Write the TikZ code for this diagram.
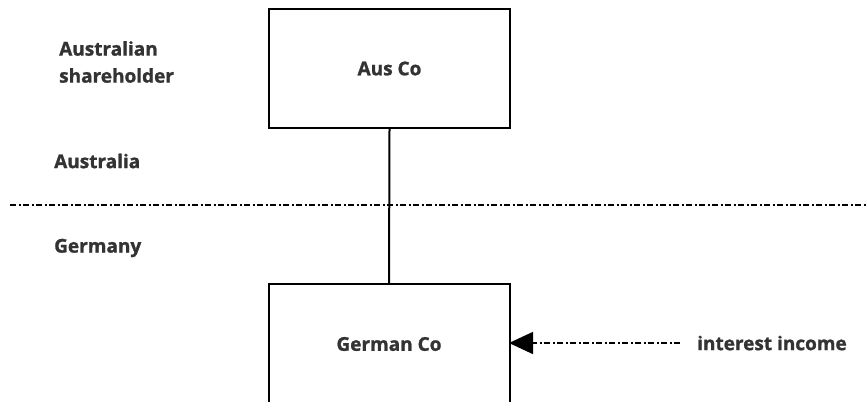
\documentclass[tikz,border=0pt]{standalone}
\usepackage{fontspec}
\setmainfont{Open Sans}[BoldFeatures={FakeBold=1.2}]
\usetikzlibrary{arrows.meta}
\definecolor{ink}{HTML}{333333}
\tikzset{
  entity/.style={draw=black, line width=2pt, minimum width=241pt, minimum height=119pt, inner sep=0pt},
  lbl/.style={text=ink, font=\bfseries\fontsize{19}{27}\selectfont, inner sep=0pt},
  border/.style={line width=1.6pt, dash pattern=on 6pt off 2.5pt on 2pt off 2.5pt},
  flow/.style={line width=1.6pt, dash pattern=on 6pt off 2.5pt on 2pt off 2.5pt,
    -{Triangle[length=24pt,width=22pt]}},
  link/.style={line width=2pt}
}
\begin{document}
\begin{tikzpicture}[x=1pt, y=-1pt]
\useasboundingbox (0,0) rectangle (866,401);
% companies
\node[entity] (aus) at (389.5,68.5) {};
\node[lbl] (auslbl) at (389.5,68.5) {Aus Co};
\node[entity, minimum height=160pt, anchor=north] (ger) at (389,283) {};
\node[lbl] (gerlbl) at (389,344) {German Co};
% ownership link
\draw[link] (aus.south) -- (ger.north);
% country border
\coordinate (bl) at (10,205);
\coordinate (br) at (866,205);
\draw[border] (bl) -- (br);
% labels
\node[lbl, anchor=west, align=left] (holder) at (59,62) {Australian\\shareholder};
\node[lbl, anchor=west] (au) at (54,161) {Australia};
\node[lbl, anchor=west] (de) at (54,248) {Germany};
\node[lbl, anchor=west] (inc) at (697,343) {interest income};
% income flow
\coordinate (tip) at (509,343);
\coordinate (fs) at (680,343);
\draw[flow] (fs) -- (tip);
\end{tikzpicture}
\end{document}
